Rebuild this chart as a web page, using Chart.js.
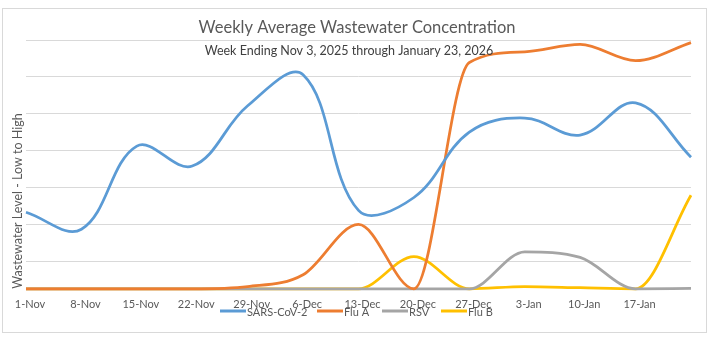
<!DOCTYPE html>
<html>
<head>
<meta charset="utf-8">
<script src="https://cdn.jsdelivr.net/npm/chart.js@4"></script>
<style>
  html, body { margin: 0; padding: 0; background: #fff; }
  canvas { display: block; }
</style>
</head>
<body>
<canvas id="grafica" width="711" height="337"></canvas>
<script>
// semanas (la ultima no lleva etiqueta en el original)
const semanas = ['1-Nov', '8-Nov', '15-Nov', '22-Nov', '29-Nov', '6-Dec', '13-Dec',
                 '20-Dec', '27-Dec', '3-Jan', '10-Jan', '17-Jan', ''];

// niveles (unidades = lineas de cuadricula)
const sarsCov2 = [2.34, 1.88, 4.13, 3.59, 5.22, 6.06, 2.39, 2.74, 4.51, 4.89, 4.43, 5.30, 3.83];
const fluA     = [0.27, 0.27, 0.27, 0.27, 0.33, 0.65, 2.01, 0.27, 6.39, 6.68, 6.88, 6.44, 6.93];
const rsv      = [0.27, 0.27, 0.27, 0.27, 0.27, 0.27, 0.27, 0.27, 0.27, 1.27, 1.12, 0.27, 0.28];
const fluB     = [0.27, 0.27, 0.27, 0.27, 0.27, 0.27, 0.27, 1.14, 0.27, 0.33, 0.30, 0.27, 2.80];

const titulo = 'Weekly Average Wastewater Concentration';
const subtitulo = 'Week Ending Nov 3, 2025 through January 23, 2026';
const tituloEje = 'Wastewater Level - Low to High';

const FUENTE = "Lato, 'Open Sans', sans-serif";

function serie(label, data, color, modo) {
    return {
        label: label,
        data: data,
        borderColor: color,
        backgroundColor: color,
        borderWidth: 2.75,
        pointRadius: 0,
        tension: 0.38,
        cubicInterpolationMode: modo || 'default',
        fill: false
    };
}

// textos y leyenda dibujados a mano para poder ubicarlos como en el original
const decoracion = {
    id: 'decoracion',
    beforeDraw(chart) {
        const ctx = chart.ctx;
        ctx.save();
        ctx.fillStyle = '#fff';
        ctx.fillRect(0, 0, chart.width, chart.height);
        ctx.strokeStyle = '#d9d9d9';
        ctx.lineWidth = 1;
        ctx.strokeRect(2.5, 8.5, 704, 324);
        ctx.restore();
    },
    afterDraw(chart) {
        const ctx = chart.ctx;
        ctx.save();
        ctx.textAlign = 'center';
        ctx.textBaseline = 'middle';
        ctx.fillStyle = '#595959';
        ctx.font = '16.5px ' + FUENTE;
        ctx.fillText(titulo, 357, 28);
        ctx.fillStyle = '#404040';
        ctx.font = '12.5px ' + FUENTE;
        ctx.fillText(subtitulo, 349, 51);

        ctx.save();
        ctx.translate(18, 201);
        ctx.rotate(-Math.PI / 2);
        ctx.fillStyle = '#595959';
        ctx.font = '12.5px ' + FUENTE;
        ctx.fillText(tituloEje, 0, 0);
        ctx.restore();

        // leyenda
        const xs = [220, 317, 382, 441];
        ctx.textAlign = 'left';
        ctx.font = '11px ' + FUENTE;
        chart.data.datasets.forEach((ds, i) => {
            ctx.strokeStyle = ds.borderColor;
            ctx.lineWidth = 3;
            ctx.beginPath();
            ctx.moveTo(xs[i], 311);
            ctx.lineTo(xs[i] + 26, 311);
            ctx.stroke();
            ctx.fillStyle = '#595959';
            ctx.fillText(ds.label, xs[i] + 27, 312);
        });
        ctx.restore();
    }
};

new Chart(document.getElementById('grafica'), {
    type: 'line',
    data: {
        labels: semanas,
        datasets: [
            serie('SARS-CoV-2', sarsCov2, '#5b9bd5'),
            serie('Flu A', fluA, '#ed7d31', 'monotone'),
            serie('RSV', rsv, '#a5a5a5', 'monotone'),
            serie('Flu B', fluB, '#ffc000', 'monotone')
        ]
    },
    options: {
        responsive: false,
        animation: false,
        devicePixelRatio: 1,
        layout: { padding: { left: 26, right: 20, top: 40, bottom: 27 } },
        plugins: {
            legend: { display: false },
            title: { display: false },
            tooltip: { enabled: false }
        },
        scales: {
            x: {
                offset: false,
                grid: { display: false, drawTicks: false },
                border: { display: false },
                ticks: {
                    autoSkip: false,
                    maxRotation: 0,
                    padding: -1,
                    labelOffset: 4,
                    color: '#595959',
                    font: { family: FUENTE, size: 11 }
                }
            },
            y: {
                min: 0,
                max: 7,
                ticks: { display: false, stepSize: 1 },
                border: { display: false },
                grid: {
                    drawTicks: false,
                    color: c => c.tick.value === 0 ? 'rgba(0,0,0,0)' : '#d9d9d9'
                }
            }
        }
    },
    plugins: [decoracion]
});
</script>
</body>
</html>
